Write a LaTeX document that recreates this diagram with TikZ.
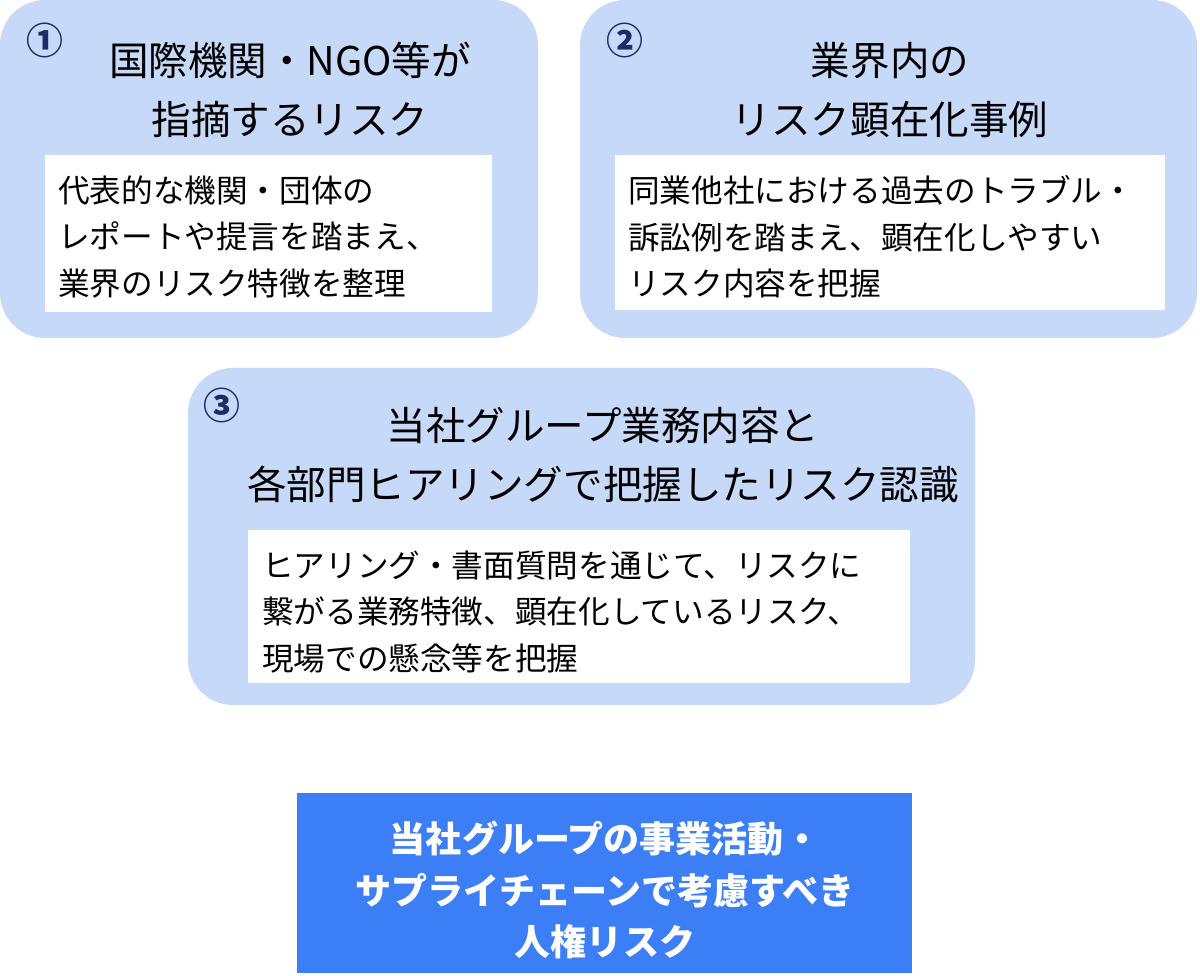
\documentclass[tikz,border=0pt]{standalone}
\usepackage{fontspec}
\setmainfont{Noto Sans CJK JP}
\definecolor{paleblue}{HTML}{C6D9F8}
\definecolor{deepblue}{HTML}{3C7EF5}
\definecolor{navy}{HTML}{1F2A6B}
\tikzset{
  panel/.style={fill=paleblue, draw=none, rounded corners=45*0.02cm},
  notebox/.style={fill=white, draw=none},
  titletext/.style={align=center, font=\fontsize{22.5}{34}\selectfont},
  notetext/.style={align=left, anchor=west, font=\fontsize{18}{26.6}\selectfont},
  numtext/.style={text=navy, font=\fontsize{21}{22}\selectfont\bfseries}
}
\begin{document}
\begin{tikzpicture}[x=0.02cm,y=-0.02cm]
\useasboundingbox (0,0) rectangle (1200,976);
% panel 1
\fill [panel] (0,0) rectangle (538,338);
\fill [notebox] (45,155) rectangle (492,312);
\node (n1) [numtext] at (45,40) {①};
\node (t1) [titletext] at (290,90) {国際機関・NGO等が\\指摘するリスク};
\node (b1) [notetext] at (52,237) {代表的な機関・団体の\\レポートや提言を踏まえ、\\業界のリスク特徴を整理};
% panel 2
\fill [panel] (580,0) rectangle (1197,338);
\fill [notebox] (615,155) rectangle (1165,310);
\node (n2) [numtext] at (625,40) {②};
\node (t2) [titletext] at (890,90) {業界内の\\リスク顕在化事例};
\node (b2) [notetext] at (622,237) {同業他社における過去のトラブル・\\訴訟例を踏まえ、顕在化しやすい\\リスク内容を把握};
% panel 3
\fill [panel] (188,368) rectangle (975,705);
\fill [notebox] (248,530) rectangle (910,683);
\node (n3) [numtext] at (222,405) {③};
\node (t3) [titletext] at (603,455) {当社グループ業務内容と\\各部門ヒアリングで把握したリスク認識};
\node (b3) [notetext] at (256,612) {ヒアリング・書面質問を通じて、リスクに\\繋がる業務特徴、顕在化しているリスク、\\現場での懸念等を把握};
% result
\fill [deepblue] (297,793) rectangle (912,973);
\node (res) [align=center, text=white, font=\fontsize{20.5}{29.5}\selectfont\bfseries] at (605,890) {当社グループの事業活動・\\サプライチェーンで考慮すべき\\人権リスク};
\end{tikzpicture}
\end{document}
